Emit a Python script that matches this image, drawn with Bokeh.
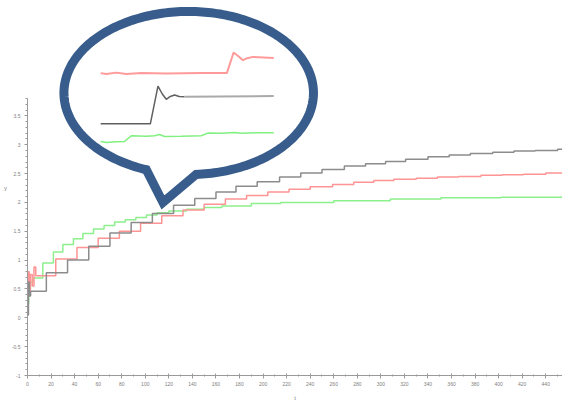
import numpy as np
from bokeh.plotting import figure
from bokeh.models import Range1d, SingleIntervalTicker, CustomJSTickFormatter
from bokeh.embed import file_html
from bokeh.resources import INLINE

# ---- main series ----
gray_t = [0, 0.8, 1.6, 2.6, 16, 34, 52, 70, 88, 106, 124, 142, 160, 177, 195, 214, 232,
          250, 269, 287, 304, 321, 340, 358, 376, 395, 413, 431, 450, 454.2]
gray_y = [0.05, 0.62, 0.38, 0.46, 0.78, 1.0, 1.24, 1.47, 1.65, 1.81, 1.95, 2.07, 2.18, 2.28,
          2.36, 2.44, 2.51, 2.57, 2.63, 2.67, 2.71, 2.75, 2.79, 2.82, 2.85, 2.87, 2.89, 2.90,
          2.92, 2.92]

red_t = [0, 0.6, 1.4, 2.4, 4, 5.5, 7, 24, 42, 60, 78, 96, 114, 132, 150, 168, 186, 204, 222,
         240, 259, 277, 294, 311, 330, 348, 366, 385, 403, 421, 440, 454.2]
red_y = [0.1, 0.8, 0.4, 0.75, 0.55, 0.88, 0.73, 1.02, 1.22, 1.38, 1.50, 1.64, 1.77, 1.87, 1.97,
         2.06, 2.12, 2.18, 2.23, 2.27, 2.31, 2.35, 2.38, 2.40, 2.42, 2.44, 2.45, 2.47, 2.48,
         2.49, 2.51, 2.51]

green_t = [0, 1, 2.5, 5, 13, 22, 30, 39, 47, 56, 65, 74, 83, 92, 101, 110, 120, 135, 150, 165,
           190, 215, 260, 308, 351, 402, 454.2]
green_y = [0.25, 0.5, 0.62, 0.69, 0.95, 1.14, 1.27, 1.37, 1.46, 1.54, 1.6, 1.66, 1.7, 1.74,
           1.78, 1.82, 1.85, 1.88, 1.91, 1.94, 1.98, 2.0, 2.03, 2.06, 2.08, 2.09, 2.11]

# ---- inset (zoomed step responses inside the callout), inset units ----
red_in_x = [0, 3.3, 9.0, 14.8, 23.5, 37.9, 58.1, 72.9, 76.8, 78.9, 82.2, 84.7, 88.0, 100]
red_in_y = [7.7, 7.6, 7.75, 7.6, 7.7, 7.65, 7.7, 7.7, 9.77, 9.5, 9.0, 9.2, 9.33, 9.23]
gray_in_x = [0, 28.7, 33.1, 35.6, 37.9, 40.2, 42.7, 45.4, 48.4]
gray_in_y = [2.6, 2.6, 6.4, 5.6, 5.07, 5.35, 5.5, 5.35, 5.33]
gray_in2_x = [48.4, 100]
gray_in2_y = [5.33, 5.4]
green_in_x = [0, 3.3, 9.0, 13.8, 17.7, 26.3, 31.1, 34.0, 36.9, 46.5, 58.1, 61.9, 69.6, 77.3,
              81.2, 89.8, 100]
green_in_y = [0.83, 0.73, 0.8, 0.83, 1.4, 1.35, 1.4, 1.53, 1.33, 1.35, 1.4, 1.67, 1.65, 1.73,
              1.65, 1.7, 1.7]

p = figure(width=562, height=403, output_backend="svg", toolbar_location=None,
           x_range=Range1d(0, 454.2), y_range=Range1d(-1.0, 5.5),
           min_border_left=26, min_border_right=0, min_border_top=0, min_border_bottom=26)
p.outline_line_color = None
p.xgrid.visible = False
p.ygrid.visible = False
p.background_fill_color = "white"

# extra ranges: pixel space for the callout, inset units for the zoomed curves
p.extra_x_ranges = {"px": Range1d(26, 562), "ix": Range1d(-42.27, 266.8)}
p.extra_y_ranges = {"py": Range1d(377, 0), "iy": Range1d(-22.7, 15.0)}

axis_col = "#9a9a9a"
lab_col = "#808080"
for ax in (p.xaxis[0], p.yaxis[0]):
    ax.axis_line_color = axis_col
    ax.major_tick_line_color = axis_col
    ax.minor_tick_line_color = axis_col
    ax.major_label_text_font_size = "5px"
    ax.major_label_text_color = lab_col
    ax.axis_label_text_font_size = "6px"
    ax.axis_label_text_color = lab_col
    ax.axis_label_text_font_style = "normal"

p.xaxis.ticker = SingleIntervalTicker(interval=20, num_minor_ticks=2)
p.yaxis.ticker = SingleIntervalTicker(interval=0.5, num_minor_ticks=5)
p.yaxis.bounds = (-1, 3.81)
p.yaxis.formatter = CustomJSTickFormatter(code="return String(Math.round(tick*100)/100)")
p.xaxis.major_tick_in = 2
p.xaxis.major_tick_out = 3
p.xaxis.minor_tick_in = 1
p.xaxis.minor_tick_out = 1
p.xaxis.major_label_standoff = 3
p.xaxis.axis_label_standoff = 6
p.yaxis.major_tick_in = 0
p.yaxis.major_tick_out = 3
p.yaxis.minor_tick_in = 0
p.yaxis.minor_tick_out = 2
p.yaxis.major_label_standoff = 4
p.yaxis.axis_label_standoff = 2
p.xaxis.axis_label = "t"
p.yaxis.axis_label = "y"
p.yaxis.axis_label_orientation = "horizontal"

p.step(green_t, green_y, mode="after", line_color="#8cf08c", line_width=1.5)
p.step(red_t, red_y, mode="after", line_color="#ff9494", line_width=1.5)
p.step(gray_t, gray_y, mode="after", line_color="#8c8c8c", line_width=1.5)

# ---- callout bubble (pixel coordinates) ----
cx, cy, a, b = 187.5, 93.0, 125.0, 82.0
th_l = np.degrees(np.arccos((145 - cx) / a))
th_r = np.degrees(np.arccos((195 - cx) / a)) + 360
th = np.radians(np.linspace(th_l, th_r, 240))
bx = list(cx + a * np.cos(th)) + [161.7]
by = list(cy + b * np.sin(th)) + [203.0]
p.patch(bx, by, x_range_name="px", y_range_name="py", fill_color="white",
        line_color="#385d8c", line_width=9, line_join="miter")

p.line(red_in_x, red_in_y, x_range_name="ix", y_range_name="iy", line_color="#ff9a9a", line_width=2)
p.line(gray_in_x, gray_in_y, x_range_name="ix", y_range_name="iy", line_color="#606060", line_width=1.5)
p.line(gray_in2_x, gray_in2_y, x_range_name="ix", y_range_name="iy", line_color="#aaaaaa", line_width=2)
p.line(green_in_x, green_in_y, x_range_name="ix", y_range_name="iy", line_color="#80f080", line_width=1.5)

open("out.html", "w").write(file_html(p, INLINE))
